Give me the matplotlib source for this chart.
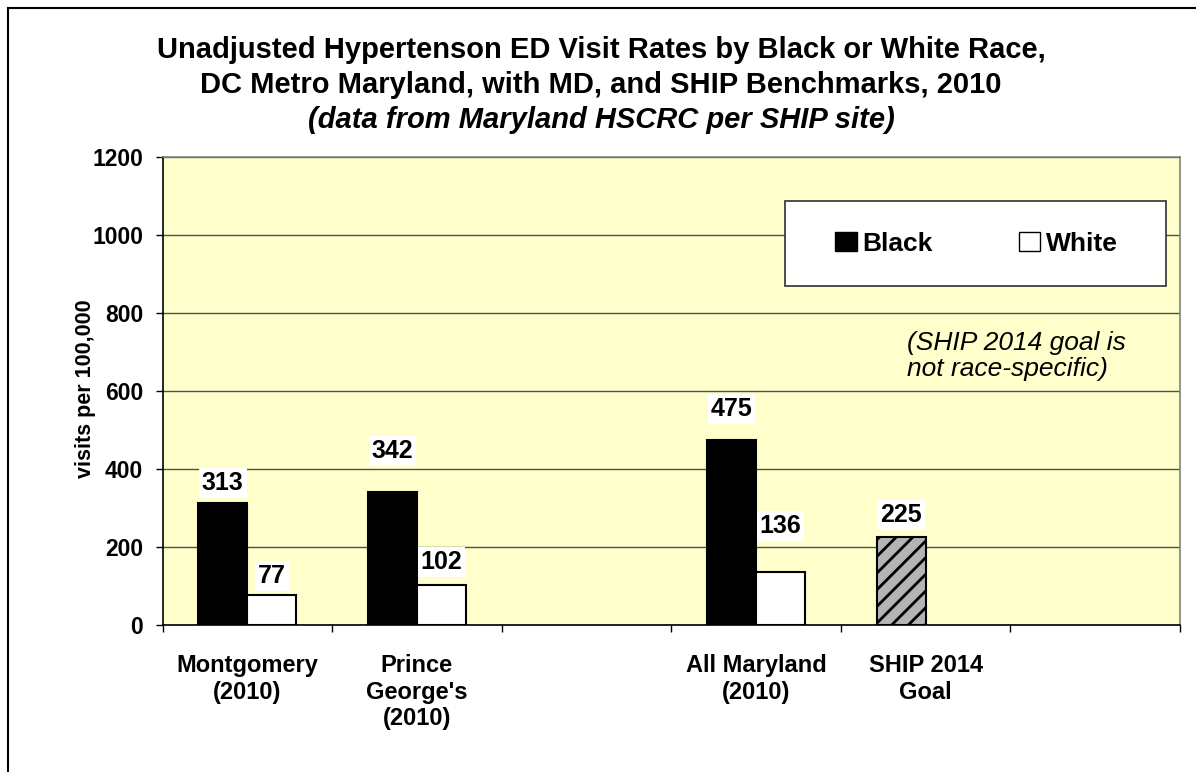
import numpy as np
import matplotlib
matplotlib.use("Agg")
import matplotlib.pyplot as plt
from matplotlib.patches import Patch, Rectangle
from matplotlib.lines import Line2D

plt.rcParams['font.family'] = ['Liberation Sans', 'DejaVu Sans']
plt.rcParams['hatch.linewidth'] = 2.0

# data
categories = ["Montgomery\n(2010)", "Prince\nGeorge's\n(2010)", "",
              "All Maryland\n(2010)", "SHIP 2014\nGoal", ""]
black = [313, 342, np.nan, 475, np.nan, np.nan]
white = [77, 102, np.nan, 136, np.nan, np.nan]
ship = [np.nan, np.nan, np.nan, np.nan, 225, np.nan]

# label offsets above bar top (points), as placed in the original chart
black_off = [14, 29, 0, 22, 0, 0]
white_off = [14, 17, 0, 33, 0, 0]
ship_off = [0, 0, 0, 0, 16, 0]

W, H = 1196, 772
fig = plt.figure(figsize=(W / 100, H / 100), dpi=100)
ax = fig.add_axes([162.5 / W, (H - 625) / H, (1180 - 162.5) / W, 468 / H])
ax.set_facecolor('#FFFFCC')

x = np.arange(len(categories))
w = 0.289

ax.bar(x - w / 2, black, w, color='black', edgecolor='black', linewidth=1.5, zorder=3)
ax.bar(x + w / 2, white, w, color='white', edgecolor='black', linewidth=1.5, zorder=3)
ax.bar(x - w / 2, ship, w, color='#b4b4b4', edgecolor='black', hatch='//',
       linewidth=1.5, zorder=3)

lab_kw = dict(ha='center', va='center', fontsize=18, fontweight='bold',
              textcoords='offset points', zorder=5,
              bbox=dict(boxstyle='square,pad=0.12', fc='white', ec='none'))
for series, off, dx in [(black, black_off, -w / 2), (white, white_off, w / 2),
                        (ship, ship_off, -w / 2)]:
    for xi, v, o in zip(x, series, off):
        if np.isnan(v):
            continue
        ax.annotate(f"{int(v)}", (xi + dx, v), xytext=(0, o), **lab_kw)

ax.set_xlim(-0.5, len(categories) - 0.5)
ax.set_ylim(0, 1200)
ax.set_yticks(np.arange(0, 1201, 200))
ax.yaxis.grid(True, color='#505050', linewidth=1, zorder=1)
ax.set_axisbelow(True)

ax.set_xticks(np.arange(-0.5, len(categories), 1.0))
ax.set_xticklabels([])
ax.set_xticks(x, minor=True)
ax.set_xticklabels(categories, minor=True, fontsize=17, fontweight='bold',
                   linespacing=1.2, va='top')
ax.tick_params(axis='x', which='minor', length=0, pad=21)
ax.tick_params(axis='x', which='major', length=5, width=1, direction='out')
ax.tick_params(axis='y', length=5, width=1, direction='out', pad=9,
               labelsize=16.5)
for t in ax.get_yticklabels():
    t.set_fontweight('bold')

for s in ['left', 'bottom']:
    ax.spines[s].set_color('black')
    ax.spines[s].set_linewidth(1.2)
for s in ['top', 'right']:
    ax.spines[s].set_color('#808080')
    ax.spines[s].set_linewidth(1.2)

# legend box
ax.add_patch(Rectangle((0.612, 0.724), 0.374, 0.182, transform=ax.transAxes,
                       fc='white', ec='#303030', lw=1.2, zorder=4))
handles = [Patch(fc='black', ec='black', label='Black'),
           Patch(fc='white', ec='black', label='White')]
leg = ax.legend(handles=handles, loc='center', bbox_to_anchor=(0.80, 0.815),
                ncol=2, frameon=False, prop=dict(size=19, weight='bold'),
                handlelength=0.8, handleheight=0.75, handletextpad=0.2,
                columnspacing=3.3)
leg.set_zorder(6)

ax.text(0.7317, 0.628, "(SHIP 2014 goal is\nnot race-specific)",
        transform=ax.transAxes, ha='left', va='top', fontsize=19,
        style='italic', linespacing=1.1, zorder=5)

# titles
fig.text(601 / W, 1 - 58 / H, "Unadjusted Hypertenson ED Visit Rates by Black or White Race,",
         ha='center', va='baseline', fontsize=21, fontweight='bold')
fig.text(601 / W, 1 - 93 / H, "DC Metro Maryland, with MD, and SHIP Benchmarks, 2010",
         ha='center', va='baseline', fontsize=21, fontweight='bold')
fig.text(601 / W, 1 - 128 / H, "(data from Maryland HSCRC per SHIP site)",
         ha='center', va='baseline', fontsize=21, fontweight='bold',
         style='italic')

fig.text(85 / W, 1 - 389 / H, "visits per 100,000", rotation=90, ha='center',
         va='center', fontsize=15.5, fontweight='bold')

# outer chart frame
fig.add_artist(Line2D([8 / W, 8 / W], [0, 1 - 8 / H], transform=fig.transFigure,
                      color='black', lw=1.5))
fig.add_artist(Line2D([8 / W, 1], [1 - 8 / H, 1 - 8 / H], transform=fig.transFigure,
                      color='black', lw=1.5))

fig.savefig('out.png', dpi=100, facecolor='white')
